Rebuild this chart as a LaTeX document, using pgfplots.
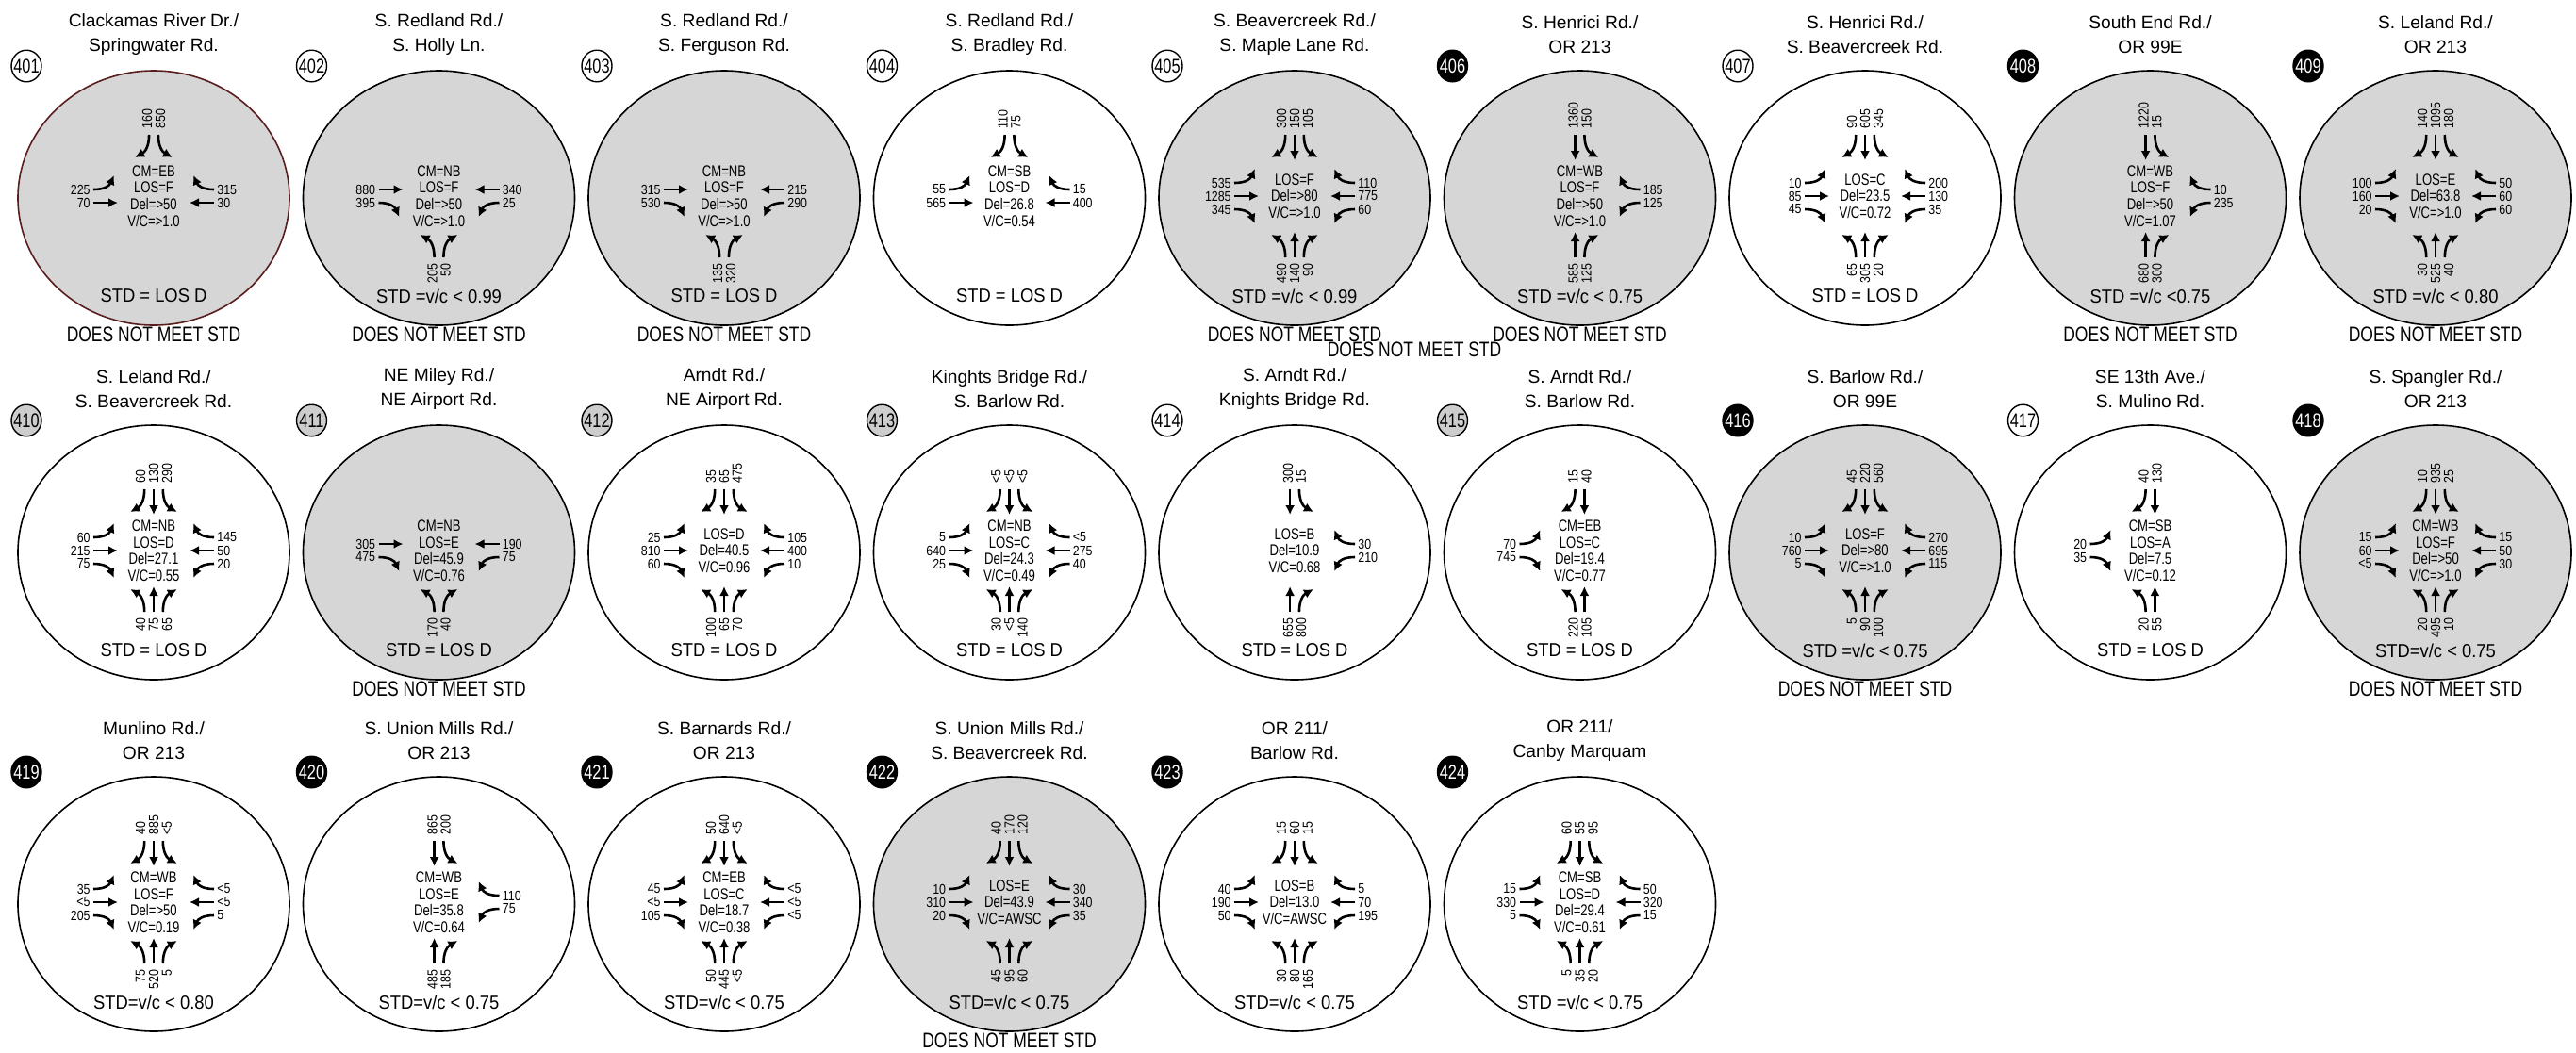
\documentclass[border=0pt]{standalone}
\usepackage{pgfplots}
\pgfplotsset{compat=1.18}
\usetikzlibrary{arrows.meta}
\usepackage{fontspec}
\setmainfont{Liberation Sans}
\newfontfamily\nfA[FakeStretch=0.85]{Liberation Sans}
\newfontfamily\nfB[FakeStretch=0.78]{Liberation Sans}
\newfontfamily\nfC[FakeStretch=0.92]{Liberation Sans}
\definecolor{shade}{RGB}{214,214,214}
\definecolor{bgray}{RGB}{205,205,205}
\definecolor{redline}{RGB}{90,30,30}
\tikzset{
 arr/.style={line width=1.3pt,-{Latex[length=5pt,width=5pt]}},
 num/.style={inner sep=0pt,font=\nfA\fontsize{7.3}{7.3}\selectfont},
}
\newcommand\isempty[1]{\if\relax\detokenize{#1}\relax}
\newcommand\setpos[3]{%
 \def\pa{-14}\def\pb{0}\def\pc{14}%
 \isempty{#1}\def\pb{-7}\def\pc{7}\fi
 \isempty{#2}\def\pa{-7}\def\pc{7}\fi
 \isempty{#3}\def\pa{-7}\def\pb{7}\fi}
% southbound (from top)
\newcommand\SB[3]{\setpos{#1}{#2}{#3}%
 \isempty{#1}\else
  \draw[arr] ({0.7*\pa},-65) .. controls ({0.7*\pa},-53) and ({0.7*\pa-4},-47) .. ({0.7*\pa-15},-41);
  \node[num,rotate=90,anchor=west] at (\pa,-71) {#1};\fi
 \isempty{#2}\else
  \draw[arr] ({0.7*\pb},-65) -- ({0.7*\pb},-38);
  \node[num,rotate=90,anchor=west] at (\pb,-71) {#2};\fi
 \isempty{#3}\else
  \draw[arr] ({0.7*\pc},-65) .. controls ({0.7*\pc},-53) and ({0.7*\pc+4},-47) .. ({0.7*\pc+15},-41);
  \node[num,rotate=90,anchor=west] at (\pc,-71) {#3};\fi}
% northbound (from bottom)
\newcommand\NB[3]{\setpos{#1}{#2}{#3}%
 \isempty{#1}\else
  \draw[arr] ({0.7*\pa},65) .. controls ({0.7*\pa},53) and ({0.7*\pa-4},47) .. ({0.7*\pa-15},41);
  \node[num,rotate=90,anchor=east] at (\pa,71) {#1};\fi
 \isempty{#2}\else
  \draw[arr] ({0.7*\pb},65) -- ({0.7*\pb},38);
  \node[num,rotate=90,anchor=east] at (\pb,71) {#2};\fi
 \isempty{#3}\else
  \draw[arr] ({0.7*\pc},65) .. controls ({0.7*\pc},53) and ({0.7*\pc+4},47) .. ({0.7*\pc+15},41);
  \node[num,rotate=90,anchor=east] at (\pc,71) {#3};\fi}
% eastbound (from left)
\newcommand\EB[3]{\setpos{#1}{#2}{#3}%
 \isempty{#1}\else
  \draw[arr] (-64,\pa) .. controls (-52,\pa) and (-47,{\pa-4}) .. (-42,{\pa-15});
  \node[num,anchor=east] at (-67,\pa) {#1};\fi
 \isempty{#2}\else
  \draw[arr] (-64,\pb) -- (-38,\pb);
  \node[num,anchor=east] at (-67,\pb) {#2};\fi
 \isempty{#3}\else
  \draw[arr] (-64,\pc) .. controls (-52,\pc) and (-47,{\pc+4}) .. (-42,{\pc+15});
  \node[num,anchor=east] at (-67,\pc) {#3};\fi}
% westbound (from right)
\newcommand\WB[3]{\setpos{#1}{#2}{#3}%
 \isempty{#1}\else
  \draw[arr] (64,\pa) .. controls (52,\pa) and (47,{\pa-4}) .. (42,{\pa-15});
  \node[num,anchor=west] at (67,\pa) {#1};\fi
 \isempty{#2}\else
  \draw[arr] (64,\pb) -- (38,\pb);
  \node[num,anchor=west] at (67,\pb) {#2};\fi
 \isempty{#3}\else
  \draw[arr] (64,\pc) .. controls (52,\pc) and (47,{\pc+4}) .. (42,{\pc+15});
  \node[num,anchor=west] at (67,\pc) {#3};\fi}
\newcommand\Ell[2][black]{\filldraw[fill=#2,draw=#1,line width=0.8pt] (0,2) ellipse [x radius=72pt,y radius=67.5pt];}
\newcommand\Badge[3]{\filldraw[fill=#1,draw=black,line width=0.7pt] (-135,-138) ellipse [x radius=8pt,y radius=8.4pt];
 \node[text=#2,inner sep=0pt,font=\nfB\fontsize{10.5}{10.5}\selectfont] at (-135,-138) {#3};}
\newcommand\Title[2]{\node[align=center,inner sep=0pt,font=\fontsize{9.6}{13}\selectfont] at (0,-171) {#1\\#2};}
\newcommand\Ctr[1]{\node[align=center,inner sep=0pt,font=\nfB\fontsize{8.4}{8.8}\selectfont] at (0,0) {#1};}
\newcommand\Std[1]{\node[inner sep=0pt,font=\nfC\fontsize{10}{11}\selectfont] at (0,106) {#1};}
\newcommand\DNM{\node[inner sep=0pt,font=\nfB\fontsize{11.2}{12}\selectfont] at (0,147) {DOES NOT MEET STD};}
\newcommand\D[2]{\pgfplotsextra{\begin{scope}[shift={(axis cs:#1)},x=0.5pt,y=-0.5pt]#2\end{scope}}}
\begin{document}
\begin{tikzpicture}
\begin{axis}[x=0.5pt,y=0.5pt,y dir=reverse,xmin=0,xmax=2732,ymin=0,ymax=1116,
  hide axis,clip=false,scale only axis]
\addplot[draw=none,forget plot] coordinates {(0,0) (2732,1116)};
\pgfplotsextra{\path (axis cs:0,0) rectangle (axis cs:2732,1116);}
% ---------------- row 1 ----------------
\D{163,208}{\Ell[redline]{shade}\Badge{white}{black}{401}\Title{Clackamas River Dr./}{Springwater Rd.}
 \Ctr{CM=EB\\LOS=F\\Del=>50\\V/C=>1.0}
 \SB{160}{}{850}\EB{225}{70}{}\WB{315}{30}{}\Std{STD = LOS D}\DNM}
\D{465.5,208}{\Ell{shade}\Badge{white}{black}{402}\Title{S. Redland Rd./}{S. Holly Ln.}
 \Ctr{CM=NB\\LOS=F\\Del=>50\\V/C=>1.0}
 \EB{}{880}{395}\WB{}{340}{25}\NB{205}{}{50}\Std{STD =v/c < 0.99}\DNM}
\D{768,208}{\Ell{shade}\Badge{white}{black}{403}\Title{S. Redland Rd./}{S. Ferguson Rd.}
 \Ctr{CM=NB\\LOS=F\\Del=>50\\V/C=>1.0}
 \EB{}{315}{530}\WB{}{215}{290}\NB{135}{}{320}\Std{STD = LOS D}\DNM}
\D{1070.5,208}{\Ell{white}\Badge{white}{black}{404}\Title{S. Redland Rd./}{S. Bradley Rd.}
 \Ctr{CM=SB\\LOS=D\\Del=26.8\\V/C=0.54}
 \SB{110}{}{75}\EB{55}{565}{}\WB{15}{400}{}\Std{STD = LOS D}}
\D{1373,208}{\Ell{shade}\Badge{white}{black}{405}\Title{S. Beavercreek Rd./}{S. Maple Lane Rd.}
 \Ctr{LOS=F\\Del=>80\\V/C=>1.0}
 \SB{300}{150}{105}\EB{535}{1285}{345}\WB{110}{775}{60}\NB{490}{140}{90}\Std{STD =v/c < 0.99}\DNM}
\D{1675.5,208}{\Ell{shade}\Badge{black}{white}{406}\Title{S. Henrici Rd./}{OR 213}
 \Ctr{CM=WB\\LOS=F\\Del=>50\\V/C=>1.0}
 \SB{}{1360}{150}\WB{185}{}{125}\NB{}{585}{125}\Std{STD =v/c < 0.75}\DNM}
\D{1978,208}{\Ell{white}\Badge{white}{black}{407}\Title{S. Henrici Rd./}{S. Beavercreek Rd.}
 \Ctr{LOS=C\\Del=23.5\\V/C=0.72}
 \SB{90}{605}{345}\EB{10}{85}{45}\WB{200}{130}{35}\NB{65}{305}{20}\Std{STD = LOS D}}
\D{2280.5,208}{\Ell{shade}\Badge{black}{white}{408}\Title{South End Rd./}{OR 99E}
 \Ctr{CM=WB\\LOS=F\\Del=>50\\V/C=1.07}
 \SB{}{1220}{15}\WB{10}{}{235}\NB{}{680}{300}\Std{STD =v/c <0.75}\DNM}
\D{2583,208}{\Ell{shade}\Badge{black}{white}{409}\Title{S. Leland Rd./}{OR 213}
 \Ctr{LOS=E\\Del=63.8\\V/C=>1.0}
 \SB{140}{1095}{180}\EB{100}{160}{20}\WB{50}{60}{60}\NB{30}{525}{40}\Std{STD =v/c < 0.80}\DNM}
\pgfplotsextra{\node[inner sep=0pt,font=\nfB\fontsize{11.2}{12}\selectfont] at (axis cs:1500,371) {DOES NOT MEET STD};}
% ---------------- row 2 ----------------
\D{163,584}{\Ell{white}\Badge{bgray}{black}{410}\Title{S. Leland Rd./}{S. Beavercreek Rd.}
 \Ctr{CM=NB\\LOS=D\\Del=27.1\\V/C=0.55}
 \SB{60}{130}{290}\EB{60}{215}{75}\WB{145}{50}{20}\NB{40}{75}{65}\Std{STD = LOS D}}
\D{465.5,584}{\Ell{shade}\Badge{bgray}{black}{411}\Title{NE Miley Rd./}{NE Airport Rd.}
 \Ctr{CM=NB\\LOS=E\\Del=45.9\\V/C=0.76}
 \EB{}{305}{475}\WB{}{190}{75}\NB{170}{}{40}\Std{STD = LOS D}\DNM}
\D{768,584}{\Ell{white}\Badge{bgray}{black}{412}\Title{Arndt Rd./}{NE Airport Rd.}
 \Ctr{LOS=D\\Del=40.5\\V/C=0.96}
 \SB{35}{65}{475}\EB{25}{810}{60}\WB{105}{400}{10}\NB{100}{65}{70}\Std{STD = LOS D}}
\D{1070.5,584}{\Ell{white}\Badge{bgray}{black}{413}\Title{Kinghts Bridge Rd./}{S. Barlow Rd.}
 \Ctr{CM=NB\\LOS=C\\Del=24.3\\V/C=0.49}
 \SB{<5}{<5}{<5}\EB{5}{640}{25}\WB{<5}{275}{40}\NB{30}{<5}{140}\Std{STD = LOS D}}
\D{1373,584}{\Ell{white}\Badge{white}{black}{414}\Title{S. Arndt Rd./}{Knights Bridge Rd.}
 \Ctr{LOS=B\\Del=10.9\\V/C=0.68}
 \SB{}{300}{15}\WB{30}{}{210}\NB{}{655}{800}\Std{STD = LOS D}}
\D{1675.5,584}{\Ell{white}\Badge{bgray}{black}{415}\Title{S. Arndt Rd./}{S. Barlow Rd.}
 \Ctr{CM=EB\\LOS=C\\Del=19.4\\V/C=0.77}
 \SB{15}{40}{}\EB{70}{}{745}\NB{220}{105}{}\Std{STD = LOS D}}
\D{1978,584}{\Ell{shade}\Badge{black}{white}{416}\Title{S. Barlow Rd./}{OR 99E}
 \Ctr{LOS=F\\Del=>80\\V/C=>1.0}
 \SB{45}{220}{560}\EB{10}{760}{5}\WB{270}{695}{115}\NB{5}{90}{100}\Std{STD =v/c < 0.75}\DNM}
\D{2280.5,584}{\Ell{white}\Badge{white}{black}{417}\Title{SE 13th Ave./}{S. Mulino Rd.}
 \Ctr{CM=SB\\LOS=A\\Del=7.5\\V/C=0.12}
 \SB{40}{130}{}\EB{20}{}{35}\NB{20}{55}{}\Std{STD = LOS D}}
\D{2583,584}{\Ell{shade}\Badge{black}{white}{418}\Title{S. Spangler Rd./}{OR 213}
 \Ctr{CM=WB\\LOS=F\\Del=>50\\V/C=>1.0}
 \SB{10}{935}{25}\EB{15}{60}{<5}\WB{15}{50}{30}\NB{20}{495}{10}\Std{STD=v/c < 0.75}\DNM}
% ---------------- row 3 ----------------
\D{163,957}{\Ell{white}\Badge{black}{white}{419}\Title{Munlino Rd./}{OR 213}
 \Ctr{CM=WB\\LOS=F\\Del=>50\\V/C=0.19}
 \SB{40}{885}{<5}\EB{35}{<5}{205}\WB{<5}{<5}{5}\NB{75}{520}{5}\Std{STD=v/c < 0.80}}
\D{465.5,957}{\Ell{white}\Badge{black}{white}{420}\Title{S. Union Mills Rd./}{OR 213}
 \Ctr{CM=WB\\LOS=E\\Del=35.8\\V/C=0.64}
 \SB{}{865}{200}\WB{110}{}{75}\NB{}{485}{185}\Std{STD=v/c < 0.75}}
\D{768,957}{\Ell{white}\Badge{black}{white}{421}\Title{S. Barnards Rd./}{OR 213}
 \Ctr{CM=EB\\LOS=C\\Del=18.7\\V/C=0.38}
 \SB{50}{640}{<5}\EB{45}{<5}{105}\WB{<5}{<5}{<5}\NB{50}{445}{<5}\Std{STD=v/c < 0.75}}
\D{1070.5,957}{\Ell{shade}\Badge{black}{white}{422}\Title{S. Union Mills Rd./}{S. Beavercreek Rd.}
 \Ctr{LOS=E\\Del=43.9\\V/C=AWSC}
 \SB{40}{170}{120}\EB{10}{310}{20}\WB{30}{340}{35}\NB{45}{95}{60}\Std{STD=v/c < 0.75}\DNM}
\D{1373,957}{\Ell{white}\Badge{black}{white}{423}\Title{OR 211/}{Barlow Rd.}
 \Ctr{LOS=B\\Del=13.0\\V/C=AWSC}
 \SB{15}{60}{15}\EB{40}{190}{50}\WB{5}{70}{195}\NB{30}{80}{165}\Std{STD=v/c < 0.75}}
\D{1675.5,957}{\Ell{white}\Badge{black}{white}{424}\Title{OR 211/}{Canby Marquam}
 \Ctr{CM=SB\\LOS=D\\Del=29.4\\V/C=0.61}
 \SB{60}{55}{95}\EB{15}{330}{5}\WB{50}{320}{15}\NB{5}{35}{20}\Std{STD =v/c < 0.75}}
\end{axis}
\end{tikzpicture}
\end{document}
